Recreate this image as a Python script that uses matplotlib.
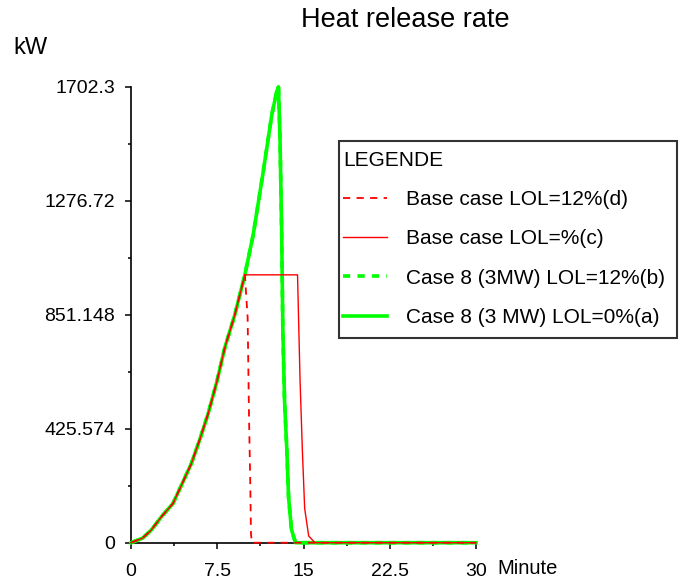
import matplotlib
matplotlib.use("Agg")
import matplotlib.pyplot as plt
from matplotlib.patches import Rectangle
from matplotlib.ticker import AutoMinorLocator

plt.rcParams['font.family'] = ['Liberation Sans', 'DejaVu Sans']

# growth phase, shared by all cases (minutes, kW)
rise_t = [0, 1.0, 1.75, 2.7, 3.64, 4.45, 5.24, 6.0, 6.7, 7.45, 8.16, 9.0, 9.9]
rise_q = [0, 17, 47, 100, 146, 221, 295, 388, 481, 599, 729, 847, 1000]

# case 8 (3 MW) keeps growing to its peak, then decays
case8_t = [10.63, 11.5, 12.24, 12.67, 12.82, 12.95, 13.1, 13.2, 13.35, 13.55, 13.7, 13.95, 14.3, 30]
case8_q = [1151, 1386, 1597, 1684, 1702.3, 1520, 1160, 800, 530, 345, 170, 50, 0, 0]

# base case LOL=% : plateau at 1 MW then decay
base_t = [14.48, 14.55, 14.7, 14.9, 15.1, 15.45, 16.0, 30]
base_q = [1000, 872, 605, 345, 128, 25, 0, 0]

# base case LOL=12% : early extinction
base12_t = [10.14, 10.26, 10.37, 10.43, 10.5, 30]
base12_q = [840, 469, 221, 35, 0, 0]

yticks = [0, 425.574, 851.148, 1276.72, 1702.3]
ytick_labels = ['0', '425.574', '851.148', '1276.72', '1702.3']
xticks = [0, 7.5, 15, 22.5, 30]
xtick_labels = ['0', '7.5', '15', '22.5', '30']

labels = ['Base case LOL=12%(d)', 'Base case LOL=%(c)',
          'Case 8 (3MW) LOL=12%(b)', 'Case 8 (3 MW) LOL=0%(a)']

fig = plt.figure(figsize=(6.79, 5.84), dpi=100)
ax = fig.add_axes([0.193, 0.0707, 0.508, 0.7808])

green = '#00ff00'
red = '#ff0000'

l_b, = ax.plot(rise_t + case8_t, rise_q + case8_q, color=green, lw=2.6,
               ls=(0, (2, 2)), zorder=3, clip_on=False)
l_a, = ax.plot(rise_t + case8_t, rise_q + case8_q, color=green, lw=2.6,
               zorder=3.1, clip_on=False)
l_d, = ax.plot(rise_t + base12_t, rise_q + base12_q, color=red, lw=1.3,
               ls=(0, (4, 3.5)), zorder=3.2, clip_on=False)
l_c, = ax.plot(rise_t + base_t, rise_q + base_q, color=red,
               lw=1.0, zorder=3.3, clip_on=False)

ax.set_xlim(0, 30)
ax.set_ylim(0, 1702.3)
ax.set_xticks(xticks)
ax.set_xticklabels(xtick_labels)
ax.set_yticks(yticks)
ax.set_yticklabels(ytick_labels)
ax.xaxis.set_minor_locator(AutoMinorLocator(2))
ax.yaxis.set_minor_locator(AutoMinorLocator(2))
ax.tick_params(which='major', length=4.5, width=1.1, labelsize=14, color='black')
ax.tick_params(which='minor', length=2, width=1.1, color='black')
ax.tick_params(axis='y', pad=7)
ax.tick_params(axis='x', pad=10)
for s in ['top', 'right']:
    ax.spines[s].set_visible(False)
for s in ['left', 'bottom']:
    ax.spines[s].set_linewidth(1.2)

fig.text(405 / 679, 1 - 20 / 584, 'Heat release rate', ha='center', va='center', fontsize=19.5)
fig.text(13 / 679, 1 - 48 / 584, 'kW', ha='left', va='center', fontsize=17)
fig.text(497 / 679, 1 - 569 / 584, 'Minute', ha='left', va='center', fontsize=14.5)

# legend box drawn separately so padding can differ vertically/horizontally
box = Rectangle((339 / 679, 1 - 338 / 584), 338 / 679, 197.3 / 584,
                transform=fig.transFigure, facecolor='white', edgecolor='#333333',
                lw=1.5, zorder=4, clip_on=False)
ax.add_patch(box)

leg = ax.legend([l_d, l_c, l_b, l_a], labels, title='LEGENDE', alignment='left',
                loc='upper left', bbox_to_anchor=(343 / 679, 1 - 151 / 584),
                bbox_transform=fig.transFigure, fontsize=15,
                title_fontsize=15, handlelength=2.1, handletextpad=0.9,
                labelspacing=0.97, borderpad=0, borderaxespad=0, frameon=False)
leg.set_zorder(5)

fig.savefig('out.png', dpi=100)
